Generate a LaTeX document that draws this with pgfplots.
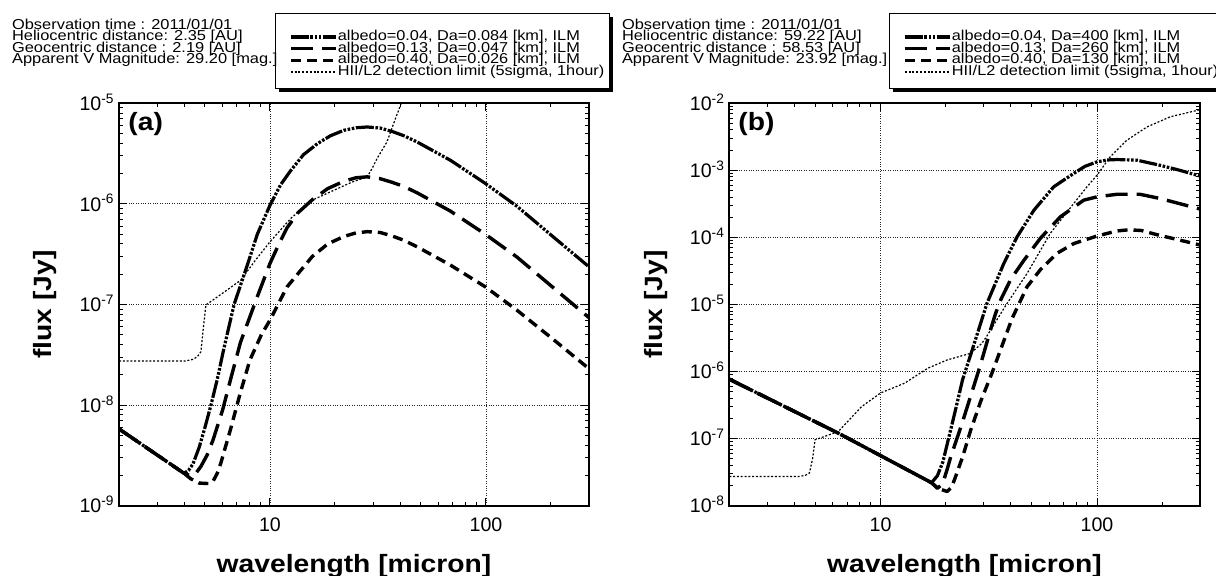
\documentclass[border=0pt]{standalone}
\usepackage{fontspec}
\setmainfont{Liberation Sans}
\newfontfamily\hdrfont[FakeStretch=1.14]{Liberation Sans}
\newfontfamily\lblfont[FakeStretch=1.13]{Liberation Sans}
\usepackage{pgfplots}
\pgfplotsset{compat=1.18}

\tikzset{
  c1/.style={black, line width=1.6pt, line join=round,
    dash pattern=on 9pt off 0.8pt on 1.3pt off 0.8pt on 1.3pt off 0.8pt on 1.3pt off 0.8pt},
  c2/.style={black, line width=1.7pt, line join=round, dash pattern=on 11pt off 4.5pt},
  c3/.style={black, line width=1.7pt, line join=round, dash pattern=on 5pt off 3pt},
  dl/.style={black, line width=0.6pt, dash pattern=on 1pt off 0.9pt},
}

\begin{document}
\begin{tikzpicture}
\path[use as bounding box] (0,0) rectangle (608pt,287.5pt);
% legend frames with shadows
\fill[black] (139.5pt,241.5pt) rectangle (306.5pt,278.85pt);
\filldraw[fill=white, draw=black, line width=0.5pt] (137.5pt,243.5pt) rectangle (304.5pt,280.85pt);
\fill[black] (446.5pt,241.5pt) rectangle (613.5pt,278.85pt);
\filldraw[fill=white, draw=black, line width=0.5pt] (444.5pt,243.5pt) rectangle (611.5pt,280.85pt);

% ---------------- panel (a)
\begin{axis}[at={(59.5pt,34.65pt)}, anchor=south west,
  scale only axis, width=235pt, height=201.2pt,
  xmode=log, ymode=log, xmin=2, xmax=300,
  xtick={10,100}, xticklabels={10,100},
  minor xtick={3,4,5,6,7,8,9,20,30,40,50,60,70,80,90,200},
  tick align=inside, xtick pos=both, ytick pos=both,
  major tick length=4pt, minor tick length=2pt,
  tick style={black, line width=0.5pt},
  axis line style={line width=0.9pt},
  grid=major,
  major grid style={black!85, line width=0.45pt, dash pattern=on 0.5pt off 0.7pt},
  tick label style={font=\fontsize{9.8}{10}\selectfont},
  xticklabel style={inner sep=0pt, yshift=-6pt},
  yticklabel style={inner sep=0pt, xshift=-2pt, text height=0.72em, text depth=0pt},
  ymin=1e-9, ymax=1e-5,
  ytick={1e-9,1e-8,1e-7,1e-6,1e-5},
  yticklabels={10\textsuperscript{-9},10\textsuperscript{-8},10\textsuperscript{-7},10\textsuperscript{-6},10\textsuperscript{-5}},
  minor ytick={2e-9,3e-9,4e-9,5e-9,6e-9,7e-9,8e-9,9e-9,2e-8,3e-8,4e-8,5e-8,6e-8,7e-8,8e-8,9e-8,2e-7,3e-7,4e-7,5e-7,6e-7,7e-7,8e-7,9e-7,2e-6,3e-6,4e-6,5e-6,6e-6,7e-6,8e-6,9e-6},
  legend cell align=left,
  legend image code/.code={\draw[#1] (0pt,0pt) -- (22.7pt,0pt);},
  legend style={at={(0.3483,1.1901)}, anchor=north west, draw=none, fill=none,
      row sep=0pt,
      font=\hdrfont\fontsize{7.15}{7.15}\selectfont,
      nodes={inner sep=0pt, text height=4.6pt, text depth=1.23pt},
      /tikz/every even column/.append style={column sep=0.65pt}}]
\addplot[c1] coordinates {(2,5.8e-9) (3,3.2e-9) (4.0,2.1e-9) (4.2,2.25e-9) (4.4,2.6e-9) (4.7,3.8e-9) (5.0,6e-9) (5.33,1.0e-8) (5.7,1.8e-8) (6.1,3.55e-8) (6.82,1.0e-7) (7.87,2.5e-7) (8.74,5.0e-7) (10,9.7e-7) (11.2,1.55e-6) (12.5,2.16e-6) (14.3,3.09e-6) (16.6,3.98e-6) (19.05,4.76e-6) (22,5.4e-6) (25.1,5.72e-6) (28.2,5.82e-6) (32.4,5.68e-6) (36.8,5.25e-6) (41.7,4.76e-6) (48,4.13e-6) (68.4,2.72e-6) (99.3,1.6e-6) (139,9.5e-7) (205,4.7e-7) (300,2.37e-7)};
\addlegendentry{albedo=0.04, Da=0.084 [km], ILM}
\addplot[c2] coordinates {(2,5.8e-9) (3,3.2e-9) (4.0,2.1e-9) (4.24,2.0e-9) (4.5,2.05e-9) (4.79,2.46e-9) (5.12,3.2e-9) (5.45,4.5e-9) (6.04,9e-9) (6.56,1.78e-8) (7.3,4.2e-8) (8.74,1.2e-7) (10,2.56e-7) (11,4.0e-7) (12,5.8e-7) (13.5,8.2e-7) (15.7,1.1e-6) (18.5,1.42e-6) (22,1.68e-6) (25,1.82e-6) (28.2,1.86e-6) (32.4,1.78e-6) (36.8,1.64e-6) (41.7,1.49e-6) (48,1.29e-6) (68.4,8.5e-7) (99.3,5.0e-7) (139,2.97e-7) (205,1.47e-7) (300,7.4e-8)};
\addlegendentry{albedo=0.13, Da=0.047 [km], ILM}
\addplot[c3] coordinates {(2,5.8e-9) (3,3.2e-9) (4.0,2.1e-9) (4.3,1.85e-9) (4.7,1.68e-9) (5.2,1.66e-9) (5.45,1.75e-9) (5.7,2.1e-9) (5.92,2.65e-9) (6.56,5.7e-9) (7.28,1.31e-8) (8.07,2.8e-8) (9.12,5.0e-8) (10,7.0e-8) (12,1.5e-7) (15.7,3.0e-7) (18.5,4.0e-7) (22,4.75e-7) (25,5.15e-7) (28.2,5.3e-7) (32.4,5.2e-7) (36.8,4.8e-7) (41.7,4.35e-7) (48,3.75e-7) (68.4,2.47e-7) (99.3,1.5e-7) (139,8.8e-8) (205,4.5e-8) (300,2.3e-8)};
\addlegendentry{albedo=0.40, Da=0.026 [km], ILM}
\addplot[dl] coordinates {(2,2.75e-8) (4.07,2.75e-8) (4.4,2.85e-8) (4.61,3.03e-8) (4.79,3.4e-8) (4.9,5.5e-8) (5.05,9.9e-8) (6.2,1.35e-7) (7.33,1.75e-7) (8.5,2.7e-7) (10,4.2e-7) (12.5,7.2e-7) (15.7,1.09e-6) (19.8,1.37e-6) (24,1.65e-6) (28.2,1.86e-6) (29.7,2.25e-6) (31.3,2.82e-6) (34.8,4.13e-6) (38.1,7.05e-6) (40.2,9.55e-6) (41.5,1.2e-5)};
\addlegendentry{HII/L2 detection limit (5sigma, 1hour)}
\end{axis}

% ---------------- panel (b)
\begin{axis}[at={(364.65pt,34.65pt)}, anchor=south west,
  scale only axis, width=235.5pt, height=201.2pt,
  xmode=log, ymode=log, xmin=2, xmax=300,
  xtick={10,100}, xticklabels={10,100},
  minor xtick={3,4,5,6,7,8,9,20,30,40,50,60,70,80,90,200},
  tick align=inside, xtick pos=both, ytick pos=both,
  major tick length=4pt, minor tick length=2pt,
  tick style={black, line width=0.5pt},
  axis line style={line width=0.9pt},
  grid=major,
  major grid style={black!85, line width=0.45pt, dash pattern=on 0.5pt off 0.7pt},
  tick label style={font=\fontsize{9.8}{10}\selectfont},
  xticklabel style={inner sep=0pt, yshift=-6pt},
  yticklabel style={inner sep=0pt, xshift=-2pt, text height=0.72em, text depth=0pt},
  ymin=1e-8, ymax=1e-2,
  ytick={1e-8,1e-7,1e-6,1e-5,1e-4,1e-3,1e-2},
  yticklabels={10\textsuperscript{-8},10\textsuperscript{-7},10\textsuperscript{-6},10\textsuperscript{-5},10\textsuperscript{-4},10\textsuperscript{-3},10\textsuperscript{-2}},
  minor ytick={2e-8,3e-8,4e-8,5e-8,6e-8,7e-8,8e-8,9e-8,2e-7,3e-7,4e-7,5e-7,6e-7,7e-7,8e-7,9e-7,2e-6,3e-6,4e-6,5e-6,6e-6,7e-6,8e-6,9e-6,2e-5,3e-5,4e-5,5e-5,6e-5,7e-5,8e-5,9e-5,2e-4,3e-4,4e-4,5e-4,6e-4,7e-4,8e-4,9e-4,2e-3,3e-3,4e-3,5e-3,6e-3,7e-3,8e-3,9e-3},
  legend cell align=left,
  legend image code/.code={\draw[#1] (0pt,0pt) -- (22.7pt,0pt);},
  legend style={at={(0.3554,1.1901)}, anchor=north west, draw=none, fill=none,
      row sep=0pt,
      font=\hdrfont\fontsize{7.15}{7.15}\selectfont,
      nodes={inner sep=0pt, text height=4.6pt, text depth=1.23pt},
      /tikz/every even column/.append style={column sep=0.65pt}}]
\addplot[c1] coordinates {(2,7.7e-7) (6.4,1.2e-7) (17.2,2.2e-8) (18.3,2.8e-8) (19.4,4.5e-8) (22,2.4e-7) (23.9,7.5e-7) (26.5,2.1e-6) (31,1.04e-5) (37.1,4.1e-5) (42.7,1.02e-4) (51.1,2.55e-4) (63.1,5.7e-4) (78,9.0e-4) (88,1.15e-3) (100,1.34e-3) (112,1.43e-3) (123.6,1.45e-3) (152.8,1.42e-3) (195.8,1.19e-3) (242,1.0e-3) (300,8.2e-4)};
\addlegendentry{albedo=0.04, Da=400 [km], ILM}
\addplot[c2] coordinates {(2,7.7e-7) (6.4,1.2e-7) (17.2,2.2e-8) (18.3,1.82e-8) (19.3,2.1e-8) (20.2,3.3e-8) (21.1,5.4e-8) (23.5,1.5e-7) (26,4.2e-7) (28.8,1.2e-6) (30,1.9e-6) (32.2,4.2e-6) (34,7.4e-6) (36,1.2e-5) (40,2.4e-5) (45.8,4.5e-5) (54.7,9.7e-5) (67.7,2.03e-4) (86.8,3.6e-4) (100,4.03e-4) (123.6,4.4e-4) (158,4.4e-4) (196,3.8e-4) (274,2.86e-4) (300,2.65e-4)};
\addlegendentry{albedo=0.13, Da=260 [km], ILM}
\addplot[c3] coordinates {(2,7.7e-7) (6.4,1.2e-7) (17.2,2.2e-8) (18.5,1.8e-8) (20.3,1.63e-8) (21.3,1.9e-8) (22,2.5e-8) (24,5.5e-8) (26,1.3e-7) (29,3.6e-7) (32.7,9.5e-7) (35.8,2.1e-6) (40.5,6.2e-6) (47.5,1.84e-5) (54.7,3.3e-5) (65.3,5.8e-5) (78,8.1e-5) (100,1.05e-4) (123.6,1.25e-4) (140,1.3e-4) (160,1.27e-4) (189,1.1e-4) (242,9.1e-5) (300,7.7e-5)};
\addlegendentry{albedo=0.40, Da=130 [km], ILM}
\addplot[dl] coordinates {(2,2.73e-8) (4.23,2.73e-8) (4.5,2.85e-8) (4.69,3.07e-8) (4.85,5e-8) (4.98,9.6e-8) (6.38,1.28e-7) (8.17,3.0e-7) (10,4.8e-7) (12.9,6.7e-7) (16.5,1.12e-6) (20.3,1.49e-6) (26,1.87e-6) (29.4,2.64e-6) (31,3.4e-6) (38.4,1.04e-5) (47.5,2.9e-5) (60.8,1.15e-4) (78,3.2e-4) (89.9,5.7e-4) (100,8.5e-4) (115,1.59e-3) (137,2.8e-3) (170,4.44e-3) (218,6.3e-3) (300,8.05e-3)};
\addlegendentry{HII/L2 detection limit (5sigma, 1hour)}
\end{axis}

% ---------------- texts
\begin{scope}[every node/.style={inner sep=0pt}]
\node[anchor=base] at (177pt,1.5pt) {\lblfont\fontsize{12.5}{13}\selectfont\bfseries wavelength [micron]};
\node[anchor=base] at (482.25pt,1.5pt) {\lblfont\fontsize{12.5}{13}\selectfont\bfseries wavelength [micron]};
\node[anchor=base, rotate=90] at (25.75pt,135.25pt) {\lblfont\fontsize{12.5}{13}\selectfont\bfseries flux [Jy]};
\node[anchor=base, rotate=90] at (331.4pt,135.25pt) {\lblfont\fontsize{12.5}{13}\selectfont\bfseries flux [Jy]};
\node[anchor=north west] at (64pt,231.5pt) {\lblfont\fontsize{12.5}{13}\selectfont\bfseries (a)};
\node[anchor=north west] at (369pt,231.5pt) {\lblfont\fontsize{12.5}{13}\selectfont\bfseries (b)};
\node[anchor=base west, font=\hdrfont\fontsize{7.2}{7.2}\selectfont] at (5.85pt,273pt) {Observation time : 2011/01/01};
\node[anchor=base west, font=\hdrfont\fontsize{7.2}{7.2}\selectfont] at (5.85pt,267.25pt) {Heliocentric distance: 2.35 [AU]};
\node[anchor=base west, font=\hdrfont\fontsize{7.2}{7.2}\selectfont] at (5.85pt,261.5pt) {Geocentric distance : 2.19 [AU]};
\node[anchor=base west, font=\hdrfont\fontsize{7.2}{7.2}\selectfont] at (5.85pt,255.65pt) {Apparent V Magnitude: 29.20 [mag.]};
\node[anchor=base west, font=\hdrfont\fontsize{7.2}{7.2}\selectfont] at (310.8pt,273pt) {Observation time : 2011/01/01};
\node[anchor=base west, font=\hdrfont\fontsize{7.2}{7.2}\selectfont] at (310.8pt,267.25pt) {Heliocentric distance: 59.22 [AU]};
\node[anchor=base west, font=\hdrfont\fontsize{7.2}{7.2}\selectfont] at (310.8pt,261.5pt) {Geocentric distance : 58.53 [AU]};
\node[anchor=base west, font=\hdrfont\fontsize{7.2}{7.2}\selectfont] at (310.8pt,255.65pt) {Apparent V Magnitude: 23.92 [mag.]};
\end{scope}
\end{tikzpicture}
\end{document}
